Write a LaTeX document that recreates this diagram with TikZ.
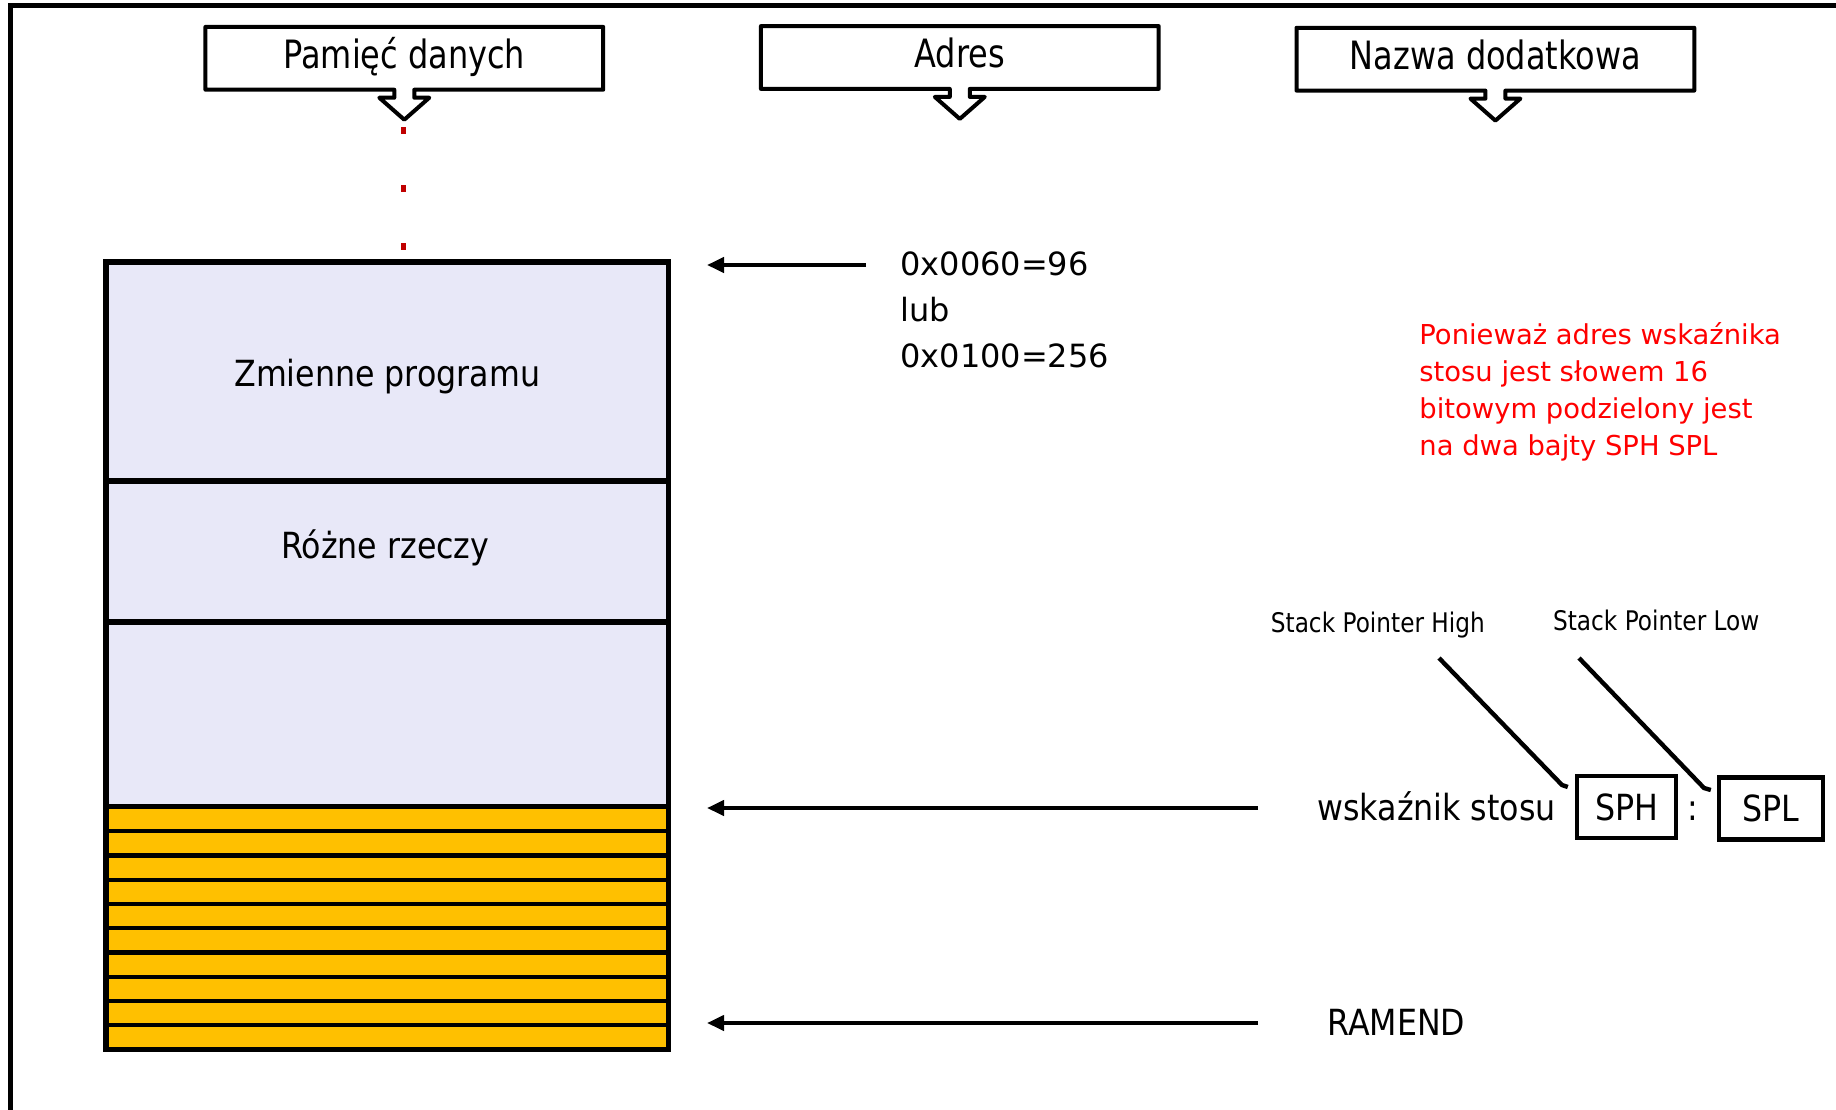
\documentclass[tikz,border=0pt]{standalone}
\usepackage{fontspec}
\setmainfont{DejaVu Sans}
\newfontfamily\hdrfont[FakeStretch=0.82]{DejaVu Sans}
\newfontfamily\bodyfont[FakeStretch=0.88]{DejaVu Sans}
\newfontfamily\smallfont[FakeStretch=0.86]{DejaVu Sans}
\usetikzlibrary{arrows.meta,calc}
\definecolor{memlav}{HTML}{E8E8F8}
\definecolor{stackorange}{HTML}{FFC000}
\definecolor{dotred}{HTML}{C00000}

\begin{document}
\begin{tikzpicture}[x=0.5pt,y=-0.5pt,
  hdrbox/.style={inner sep=0pt, minimum width=198.5pt, minimum height=31pt,
    text height=14pt, text depth=4pt, font=\hdrfont\fontsize{19.5pt}{23pt}\selectfont},
  callout/.style={draw, line width=2pt, line join=round},
  memsec/.style={draw, fill=memlav, line width=2.6pt, minimum width=281.25pt,
    inner sep=0pt, outer sep=0pt},
  stripe/.style={draw, fill=stackorange, line width=2.2pt, minimum width=281.25pt,
    minimum height=12.125pt, inner sep=0pt, outer sep=0pt},
  bodytxt/.style={inner sep=0pt, font=\bodyfont\fontsize{18pt}{22pt}\selectfont},
  addrtxt/.style={inner sep=0pt, align=left, font=\fontsize{16pt}{23pt}\selectfont},
  notetxt/.style={inner sep=0pt, align=left, text=red, font=\fontsize{13.7pt}{18.35pt}\selectfont},
  smalltxt/.style={inner sep=0pt, font=\smallfont\fontsize{13.5pt}{16pt}\selectfont},
  regbox/.style={draw, line width=2.2pt, inner sep=0pt, minimum height=31pt,
    text height=15pt, text depth=2pt, font=\bodyfont\fontsize{18pt}{22pt}\selectfont},
  ptr/.style={line width=2pt, -{Triangle[length=8.5pt,width=7.5pt]}},
  leader/.style={line width=2.2pt, line join=miter},
  dotline/.style={dotred, line width=2.5pt, dash pattern=on 3.5pt off 25.5pt}
]
\useasboundingbox (0,0) rectangle (1836,1109);

% outer frame (left and top edges)
\draw[line width=2.2pt] (10.5,1120) -- (10.5,5.3) -- (1850,5.3);

% column headers with downward callout arrows
\node[hdrbox] (h1) at (404.3,58.3) {Pamięć danych};
\node[hdrbox] (h2) at (959.8,57.5) {Adres};
\node[hdrbox] (h3) at (1495.4,59.2) {Nazwa dodatkowa};
\foreach \h in {h1,h2,h3}{
  \draw[callout] (\h.north west) -- (\h.north east) -- (\h.south east)
    -- ([xshift=5pt]\h.south) -- ++(0,8) -- ++(15,0) -- ++(-25,22)
    -- ++(-25,-22) -- ++(15,0) -- ++(0,-8) -- (\h.south west) -- cycle;
}

% memory map
\node[memsec, minimum height=109.5pt] (vars) at (387.25,371.5) {};
\node[memsec, minimum height=70.5pt] (misc) at (387.25,551.5) {};
\node[memsec, minimum height=92.5pt] (free) at (387.25,714.5) {};
\foreach \i in {0,...,9}{
  \node[stripe] (stripe\i) at (387.25,{819.125+24.25*\i}) {};
}
\draw[line width=2.6pt] (vars.north west) rectangle (stripe9.south east);

\node[bodytxt, anchor=base] (varstxt) at ($(vars.center)+(0,14.5)$) {Zmienne programu};
\node[bodytxt, anchor=base] (misctxt) at ($(misc.center)+(-2,6.5)$) {Różne rzeczy};

% dotted continuation above the memory map
\coordinate (dotstart) at ($(h1.south)+(-1.3,37.5)$);
\draw[dotline] (dotstart) -- ([yshift=5pt]dotstart |- vars.north);

% start address
\node[addrtxt, anchor=base west] (addr) at (900,367) {0x0060=96\\lub\\0x0100=256};
\coordinate (a1s) at (866,265);
\draw[ptr] (a1s) -- ([xshift=19.25pt]a1s -| vars.east);

% stack pointer
\coordinate (a2s) at (1258,808);
\draw[ptr] (a2s) -- ([xshift=19.25pt]a2s -| stripe0.east);
\node[bodytxt, anchor=base west] (sptxt) at (1317,820) {wskaźnik stosu};
\node[regbox, minimum width=49.5pt] (sph) at (1626.5,807) {SPH};
\node[bodytxt, anchor=base] (colon) at (1693,820) {:};
\node[regbox, minimum width=52pt] (spl) at (1771,808.5) {SPL};

\node[smalltxt, anchor=base west] (sphlbl) at (1270.5,632) {Stack Pointer High};
\node[smalltxt, anchor=base west] (spllbl) at (1552.7,630) {Stack Pointer Low};
\coordinate (sphlead) at (1439,658);
\coordinate (spllead) at (1579,658);
\draw[leader] (sphlead) -- ++(123,127) -- ([xshift=-3.5pt,yshift=10pt]sph.west);
\draw[leader] (spllead) -- ++(125,130) -- ([xshift=-3pt,yshift=9.25pt]spl.west);

% end of RAM
\coordinate (a3s) at (1258,1023);
\draw[ptr] (a3s) -- ([xshift=19.25pt]a3s -| stripe9.east);
\node[bodytxt, anchor=base west] (ramend) at (1327,1035) {RAMEND};

% note
\node[notetxt, anchor=base west] (note) at (1419,455)
  {Ponieważ adres wskaźnika\\stosu jest słowem 16\\bitowym podzielony jest\\na dwa bajty SPH SPL};
\end{tikzpicture}
\end{document}
